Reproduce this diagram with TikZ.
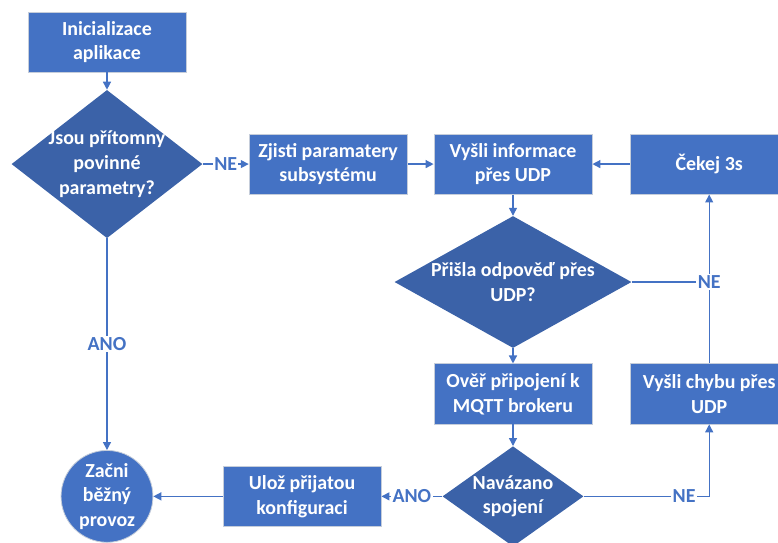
\documentclass[tikz,border=0pt]{standalone}
\usepackage{fontspec}
\setmainfont{Carlito}
\usetikzlibrary{positioning,shapes.geometric,arrows.meta}
\definecolor{boxblue}{HTML}{4472C4}
\definecolor{decblue}{HTML}{3B62A8}
\definecolor{rimgray}{HTML}{C5CDDA}
\newcommand{\flowfont}{\fontsize{15}{18.6}\selectfont\bfseries}
\tikzstyle{process} = [rectangle,draw=rimgray,fill=boxblue,text=white,align=center,font=\flowfont,minimum width=4.18cm,minimum height=1.59cm,inner sep=2pt,line width=0.6pt]
\tikzstyle{decision} = [diamond,fill=decblue,text=white,align=center,font=\flowfont,inner sep=-5pt]
\tikzstyle{terminal} = [circle,draw=rimgray,fill=boxblue,text=white,align=center,font=\flowfont,minimum size=2.43cm,inner sep=-8pt,line width=0.6pt]
\tikzstyle{arrow} = [-{Triangle[length=6pt,width=6pt]},draw=boxblue,line width=1pt]
\tikzstyle{line} = [draw=boxblue,line width=1pt]
\tikzstyle{answer} = [fill=white,text=boxblue,font=\flowfont,inner sep=1pt]

\begin{document}
\begin{tikzpicture}
    \useasboundingbox (0,0) rectangle (20.58,-14.34);
    \node [process] (init) at (2.83,-1.11) {Inicializace\\aplikace};
    \node [decision,aspect=1.29,minimum width=5.05cm,minimum height=3.92cm] (present) at (2.83,-4.34) {Jsou přítomny\\povinné\\parametry?};
    \node [process] (subsys) at (8.68,-4.34) {Zjisti paramatery\\subsystému};
    \node [process] (send) at (13.57,-4.34) {Vyšli informace\\přes UDP};
    \node [process] (wait) at (18.76,-4.34) {Čekej 3s};
    \node [decision,aspect=1.8,minimum width=6.27cm,minimum height=3.49cm] (reply) at (13.57,-7.46) {Přišla odpověď přes\\UDP?};
    \node [process] (verify) at (13.57,-10.42) {Ověř připojení k\\MQTT brokeru};
    \node [process] (errsend) at (18.76,-10.42) {Vyšli chybu přes\\UDP};
    \node [decision,aspect=1.41,minimum width=3.73cm,minimum height=2.65cm] (linked) at (13.57,-13.13) {Navázano\\spojení};
    \node [process] (store) at (7.99,-13.13) {Ulož přijatou\\konfiguraci};
    \node [terminal] (start) at (2.83,-13.13) {Začni\\běžný\\provoz};
    \draw [arrow] (init) -- (present);
    \draw [arrow] (present) -- node[answer] {NE} (subsys);
    \draw [arrow] (present) -- node[answer] {ANO} (start);
    \draw [arrow] (subsys) -- (send);
    \draw [arrow] (wait) -- (send);
    \draw [arrow] (send) -- (reply);
    \draw [arrow] (errsend) -- (wait);
    \draw [line] (reply.east) -- (reply.east -| errsend.north) node[answer] {NE};
    \draw [arrow] (reply) -- (verify);
    \draw [arrow] (verify) -- (linked);
    \draw [arrow] (linked) -- node[answer] {ANO} (store);
    \draw [arrow] (linked.east) -| node[answer,pos=0.4] {NE} (errsend);
    \draw [arrow] (store) -- (start);
\end{tikzpicture}
\end{document}
